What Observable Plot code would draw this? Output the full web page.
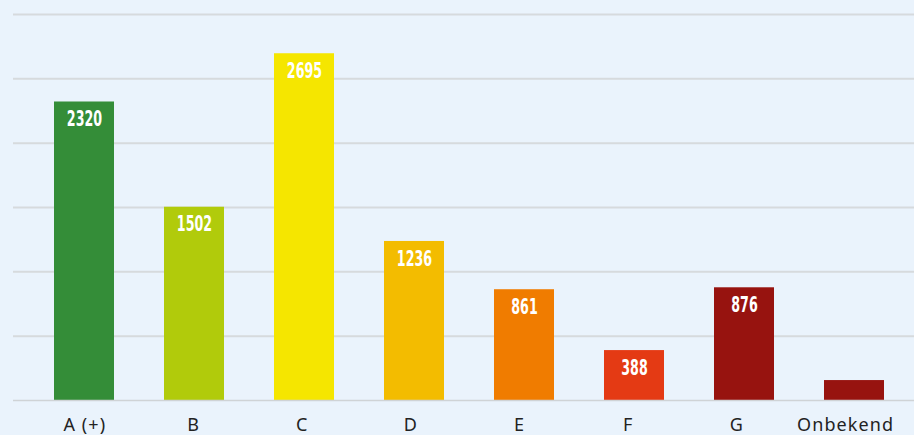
<!DOCTYPE html>
<html><head><meta charset="utf-8">
<script src="https://cdn.jsdelivr.net/npm/d3@7"></script>
<script src="https://cdn.jsdelivr.net/npm/@observablehq/plot@0.6"></script>
<style>
html,body{margin:0;padding:0;background:#eaf3fc;}
#chart svg{display:block;}
</style></head><body><div id="chart"></div>
<script>
const categories = ["A (+)", "B", "C", "D", "E", "F", "G", "Onbekend"];
const values = [2320, 1502, 2695, 1236, 861, 388, 876, 155];
const showLabel = [true, true, true, true, true, true, true, false];
const colors = ["#348d38", "#b1cb0b", "#f5e600", "#f3bc00", "#f07c00", "#e43a14", "#97130f", "#97130f"];
const gridTicks = [500, 1000, 1500, 2000, 2500, 3000];

const data = categories.map((c, i) => ({cat: c, value: values[i], label: showLabel[i], color: colors[i]}));

const plot = Plot.plot({
  width: 914,
  height: 435,
  marginLeft: 13,
  marginRight: 0,
  marginTop: 14,
  marginBottom: 35,
  style: {background: "#eaf3fc", overflow: "visible"},
  x: {domain: categories, range: [29, 909], paddingInner: 50/110, paddingOuter: 25/110, label: null},
  y: {domain: [0, 3000], axis: null},
  marks: [
    Plot.ruleY(gridTicks, {stroke: "#d6dadd", strokeWidth: 2}),
    Plot.barY(data, {x: "cat", y: "value", fill: "color"}),
    Plot.ruleY([0], {stroke: "#cfd3d6", strokeWidth: 1.5}),
    Plot.text(data.filter(d => d.label), {x: "cat", y: "value", text: d => String(d.value), dy: 17, fill: "white",
      fontSize: 22, fontWeight: "bold", fontFamily: "'DejaVu Sans Condensed', sans-serif"}),
    Plot.axisX({tickSize: 0, tickPadding: 18, fontSize: 18, fontFamily: "'Noto Sans', sans-serif", color: "#222", label: null})
  ]
});
const svg = d3.select(plot);
// axis labels: slightly tighter spacing than the bars, wider lettering
const x0 = plot.scale("x").apply(categories[0]) + plot.scale("x").bandwidth / 2;
svg.selectAll('g[aria-label="x-axis tick label"] text').attr("letter-spacing", "1.1px");
svg.selectAll('g[aria-label="x-axis tick label"] > *').each(function() {
  const el = d3.select(this);
  const tr = el.attr("transform") || "";
  const m = /translate\(([-\d.]+),\s*([-\d.]+)\)/.exec(tr);
  if (m) {
    const x = +m[1], y = +m[2];
    const nx = x0 + (x - x0) * 0.988;
    el.attr("transform", tr.replace(m[0], `translate(${nx},${y})`));
  }
});
document.getElementById("chart").append(plot);
// narrow the bar value labels (condensed display face)
svg.selectAll('g[aria-label="text"] text').each(function() {
  const w = this.getComputedTextLength();
  if (w > 0) {
    this.setAttribute("textLength", (w * 0.64).toFixed(2));
    this.setAttribute("lengthAdjust", "spacingAndGlyphs");
  }
});
</script></body></html>
